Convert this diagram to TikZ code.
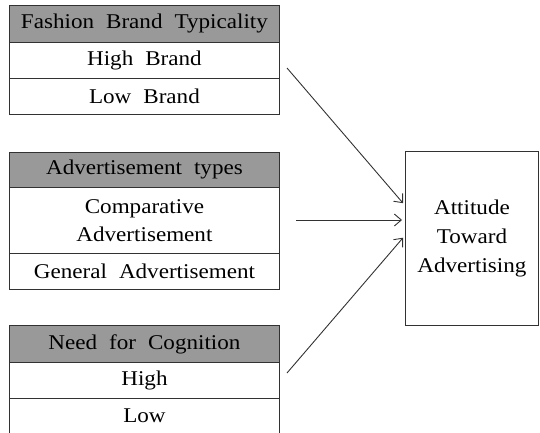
\documentclass[tikz,border=0pt]{standalone}
\usepackage{fontspec}
\newfontfamily\boxfont[FakeStretch=1.1]{Liberation Serif}
\usetikzlibrary{arrows.meta}
\definecolor{headgray}{RGB}{153,153,153}
\definecolor{linegray}{RGB}{50,50,50}
\begin{document}
\begin{tikzpicture}[x=1pt,y=-1pt,
  cell/.style={draw=linegray, line width=0.9pt, anchor=north west,
    minimum width=270pt, inner sep=0pt, align=center,
    font={\boxfont\fontsize{21}{28}\selectfont\spaceskip=12pt\relax}},
  head/.style={cell, fill=headgray},
  result/.style={cell, minimum width=133pt, minimum height=174pt,
    font={\boxfont\fontsize{21}{29}\selectfont}},
  arr/.style={draw=linegray, line width=0.9pt,
    -{Straight Barb[length=7pt,width=12pt]}, shorten >=3pt}]
\useasboundingbox (0,0) rectangle (540,433);

% Fashion brand typicality block
\node[head, minimum height=37pt] (fbt) at (9,5) {Fashion Brand Typicality};
\node[cell, minimum height=36pt] (hb) at (9,42) {High Brand};
\node[cell, minimum height=36pt] (lb) at (9,78) {Low Brand};

% Advertisement types block
\node[head, minimum height=35pt] (adt) at (9,152) {Advertisement types};
\node[cell, minimum height=66pt] (cmp) at (9,187) {Comparative\\Advertisement};
\node[cell, minimum height=36pt] (gen) at (9,253) {General Advertisement};

% Need for cognition block (runs off the lower edge)
\node[head, minimum height=37pt] (nfc) at (9,325) {Need for Cognition};
\node[cell, minimum height=36pt] (hi) at (9,362) {High};
\node[cell, draw=none, minimum height=35pt] (lo) at (9,398) {Low};
\draw[linegray, line width=0.9pt] (lo.north west) -- (lo.south west)
  (lo.north east) -- (lo.south east);

% Outcome
\node[result] (att) at (405,151) {Attitude\\Toward\\Advertising};

% Paths
\coordinate (s1) at (287,68);
\coordinate (s2) at (296,220);
\coordinate (s3) at (287,373);
\draw[arr] (s1) -- ([yshift=33pt]att.west);
\draw[arr] (s2) -- (s2 -| att.west);
\draw[arr] (s3) -- ([yshift=3pt]att.west);
\end{tikzpicture}
\end{document}
